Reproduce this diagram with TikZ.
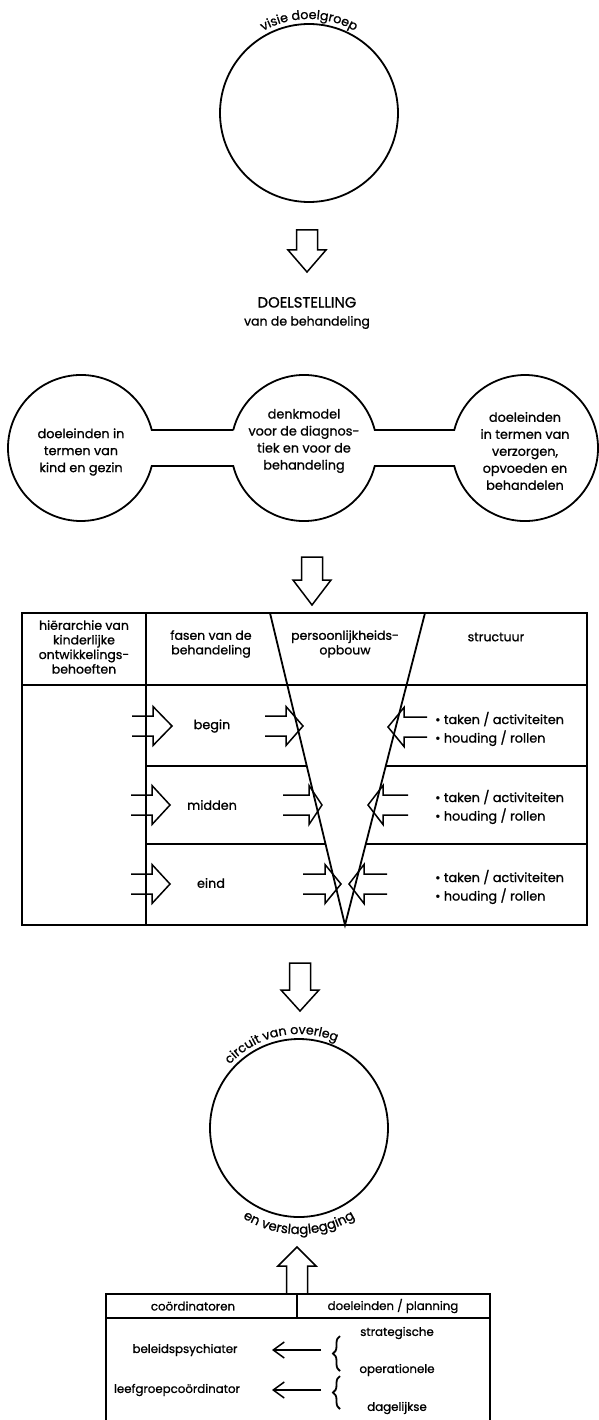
\documentclass[tikz,border=0pt]{standalone}
\usepackage{fontspec}
\setmainfont{Poppins}[FakeBold=1]
\usetikzlibrary{decorations.text,decorations.pathreplacing,arrows.meta}

\newcommand{\txtfont}{\fontsize{12.8}{17}\selectfont}
\newcommand{\arcfont}{\fontsize{12.6}{14}\selectfont}

\tikzset{
  frame/.style={line width=1.8pt},
  outline/.style={line width=1.5pt, line join=miter},
  lbl/.style={font=\txtfont, align=center, inner sep=0pt},
  small/.style={lbl, font=\fontsize{11.8}{14}\selectfont},
  % hollow block arrow pointing down, top edge at the pic origin
  pics/blockdown/.style 2 args={code={
    \draw[outline] (-10.5,0) -- (-10.5,-#1) -- (-19,-#1) -- (0,-#1-#2)
      -- (19,-#1) -- (10.5,-#1) -- (10.5,0) -- cycle;}},
  % open-tailed arrow, tip at the pic origin, pointing right
  pics/opentail/.style 2 args={code={
    \draw[outline] (-#2-#1,10) -- (-#2,10) -- (-#2,19.5) -- (0,0)
      -- (-#2,-19.5) -- (-#2,-10) -- (-#2-#1,-10);}},
  barb/.style={line width=1.5pt, -{Straight Barb[length=11pt,width=16pt]}},
  curly/.style={line width=1.8pt, decorate, decoration={brace, amplitude=7pt}},
}

\begin{document}
\begin{tikzpicture}[x=1pt,y=1pt]
\useasboundingbox (0,0) rectangle (598,-1420);

% --- vision on the target group
\node[circle, draw, frame, minimum size=178pt, inner sep=0pt] (visie) at (309,-113) {};
\path[decorate, decoration={text along path, text align=center,
  text={|\arcfont|visie doelgroep}}]
  (309,-113) ++(150:94pt) arc[start angle=150, end angle=30, radius=94pt];

\pic at (307,-230) {blockdown={20}{22}};

\node[lbl, font=\fontsize{12.5}{18}\selectfont] (doel) at (307,-313)
  {{\fontsize{14.8}{18}\selectfont DOELSTELLING}\\van de behandeling};

% --- three linked circles
\draw[frame] (233.25,-430) -- (151.75,-430)
  arc[start angle=14.26, end angle=345.74, radius=73pt]
  -- (233.25,-466) arc[start angle=194.26, end angle=345.74, radius=73pt]
  -- (454.25,-466) arc[start angle=-165.74, end angle=165.74, radius=73pt]
  -- (374.75,-430) arc[start angle=14.26, end angle=165.74, radius=73pt];

\node[lbl] (kind) at (81,-452) {doeleinden in\\termen van\\kind en gezin};
\node[lbl] (denk) at (304,-441) {denkmodel\\voor de diagnos-\\tiek en voor de\\behandeling};
\node[lbl] (verz) at (525,-451) {doeleinden\\in termen van\\verzorgen,\\opvoeden en\\behandelen};

\pic at (312,-557) {blockdown={23}{25}};

% --- treatment table
\draw[frame] (22,-613) rectangle (587,-925);
\draw[frame] (22,-685) -- (587,-685);
\draw[frame] (146,-613) -- (146,-925);
\draw[frame] (270,-613) -- (345,-925) -- (425,-613);
\draw[frame] (146,-766) -- (306.8,-766) (385.8,-766) -- (587,-766);
\draw[frame] (146,-844) -- (325.5,-844) (365.8,-844) -- (587,-844);

\node[lbl, font=\fontsize{12.5}{14.6}\selectfont] (hier) at (84,-647) {hiërarchie van\\kinderlijke\\ontwikkelings-\\behoeften};
\node[lbl, font=\fontsize{12.5}{14.6}\selectfont] (fasen) at (211,-644) {fasen van de\\behandeling};
\node[lbl, font=\fontsize{12.5}{14.6}\selectfont] (pers) at (345,-644) {persoonlijkheids-\\opbouw};
\node[lbl, font=\fontsize{12.5}{14.6}\selectfont] (struc) at (496,-637) {structuur};

\node[lbl] (begin) at (212,-726) {begin};
\node[lbl] (midden) at (212,-805) {midden};
\node[lbl] (eind) at (211,-883) {eind};

\foreach \y [count=\i] in {729,807,887}{
  \node[lbl, anchor=west, align=left, font=\fontsize{12.8}{18.5}\selectfont] (struc\i) at (435,-\y)
    {\textbullet\ taken / activiteiten\\\textbullet\ houding / rollen};
}

% arrows into the phases
\pic at (172,-726) {opentail={21}{19}};
\pic at (170,-805) {opentail={21}{18}};
\pic at (170,-884) {opentail={21}{18}};
% arrows into the personality build-up
\pic at (303,-726) {opentail={21}{17}};
\pic[rotate=180] at (388,-727) {opentail={23}{16}};
\pic at (322,-805) {opentail={26}{13}};
\pic[rotate=180] at (368,-805) {opentail={25}{15}};
\pic at (341,-884) {opentail={22}{16}};
\pic[rotate=180] at (349,-884) {opentail={23}{15}};

\pic at (300,-963) {blockdown={27}{21}};

% --- consultation circuit
\node[circle, draw, frame, minimum size=178pt, inner sep=0pt] (circuit) at (299,-1128) {};
\path[decorate, decoration={text along path, text align=center,
  text={|\arcfont|circuit van overleg}}]
  (299,-1128) ++(165:94pt) arc[start angle=165, end angle=39, radius=94pt];
\path[decorate, decoration={text along path, text align=center,
  text={|\fontsize{13.2}{15}\selectfont|en verslaglegging}}]
  (299,-1128) ++(195:106pt) arc[start angle=195, end angle=345, radius=106pt];

\pic[rotate=180] at (297,-1294) {blockdown={28}{19}};

% --- coordination table
\draw[frame] (106,-1420) -- (106,-1294) -- (490,-1294) -- (490,-1420);
\draw[frame] (106,-1318) -- (490,-1318);
\draw[frame] (297,-1294) -- (297,-1318);

\node[small] (coord) at (193,-1306) {coördinatoren};
\node[small] (plan) at (393,-1306) {doeleinden / planning};

\node[small] (strat) at (397,-1333) {strategische};
\node[small] (oper) at (397,-1370) {operationele};
\node[small] (dag) at (397,-1408) {dagelijkse};
\node[small] (beleid) at (185,-1350) {beleidspsychiater};
\node[small] (leef) at (177,-1390) {leefgroepcoördinator};

\draw[curly] (340,-1371) -- (340,-1336);
\draw[curly] (340,-1409) -- (340,-1376);

\coordinate (from1) at (321,-1350);
\coordinate (to1) at (272,-1350);
\coordinate (from2) at (321,-1390);
\coordinate (to2) at (272,-1390);
\draw[barb] (from1) -- (to1);
\draw[barb] (from2) -- (to2);
\end{tikzpicture}
\end{document}
